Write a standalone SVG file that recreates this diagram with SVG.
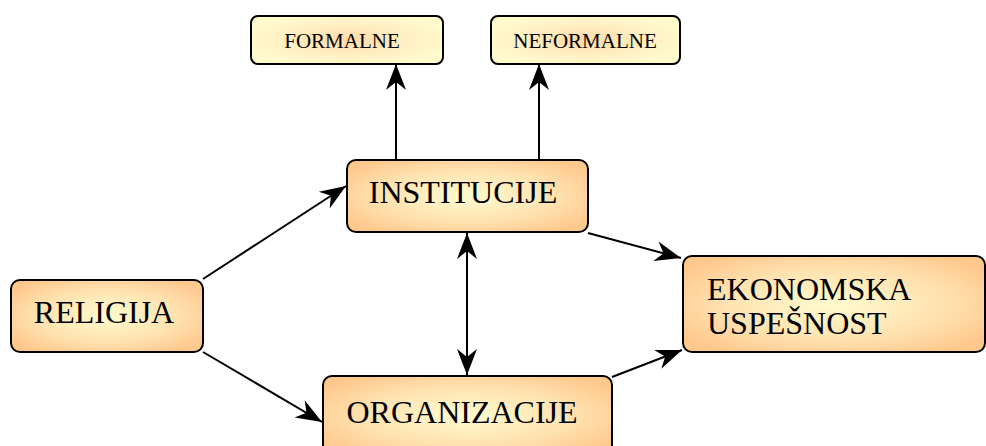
<svg xmlns="http://www.w3.org/2000/svg" width="986" height="446" viewBox="0 0 986 446">
<defs>
<radialGradient id="gBig" cx="50%" cy="50%" r="60%">
<stop offset="0" stop-color="#FFFBCF"/>
<stop offset="0.6" stop-color="#FFE2B0"/>
<stop offset="1" stop-color="#FFC98E"/>
</radialGradient>
<radialGradient id="gSmall" cx="50%" cy="50%" r="55%">
<stop offset="0" stop-color="#FFD9A8"/>
<stop offset="0.5" stop-color="#FFEDC0"/>
<stop offset="1" stop-color="#FFFBCC"/>
</radialGradient>
<marker id="ah" markerUnits="userSpaceOnUse" markerWidth="32" markerHeight="26" viewBox="-28 -13 30 26" refX="0" refY="0" orient="auto-start-reverse">
<path d="M0,0 L-26,-10 L-18,0 L-26,10 Z" fill="#000"/>
</marker>
<style>
.box{stroke:#000;stroke-width:2}
.big{fill:url(#gBig)}
.small{fill:url(#gSmall)}
.t{font-family:"Liberation Serif","Times New Roman",serif;fill:#000}
.tb{font-size:32px}
.ts{font-size:21px}
.c{stroke:#000;stroke-width:2;fill:none;marker-end:url(#ah)}
.cc{stroke:#000;stroke-width:2;fill:none;marker-end:url(#ah);marker-start:url(#ah)}
</style>
</defs>
<g id="connectors">
<line class="c" x1="396" y1="160" x2="396" y2="64"/>
<line class="c" x1="539" y1="160" x2="539" y2="64"/>
<line class="c" x1="203" y1="279" x2="346" y2="186"/>
<line class="c" x1="203" y1="352" x2="322" y2="422"/>
<line class="c" x1="588" y1="233" x2="681" y2="258"/>
<line class="c" x1="612" y1="377" x2="682" y2="350"/>
<line class="cc" x1="467" y1="233" x2="467" y2="375"/>
</g>
<g id="formalne">
<rect class="box small" x="251" y="16" width="192" height="48" rx="7"/>
<text class="t ts" x="342" y="48" text-anchor="middle">FORMALNE</text>
</g>
<g id="neformalne">
<rect class="box small" x="491" y="16" width="189" height="48" rx="7"/>
<text class="t ts" x="585" y="48" text-anchor="middle">NEFORMALNE</text>
</g>
<g id="institucije">
<rect class="box big" x="347" y="160" width="241" height="72" rx="9"/>
<text class="t tb" x="463" y="203" text-anchor="middle">INSTITUCIJE</text>
</g>
<g id="religija">
<rect class="box big" x="11" y="280" width="192" height="72" rx="9"/>
<text class="t tb" x="104" y="323" text-anchor="middle">RELIGIJA</text>
</g>
<g id="ekonomska">
<rect class="box big" x="683" y="256" width="302" height="96" rx="9"/>
<text class="t tb" x="707" y="300">EKONOMSKA</text>
<text class="t tb" x="707" y="334">USPEŠNOST</text>
</g>
<g id="organizacije">
<rect class="box big" x="323" y="376" width="289" height="80" rx="9"/>
<text class="t tb" x="462" y="423" text-anchor="middle">ORGANIZACIJE</text>
</g>
</svg>
